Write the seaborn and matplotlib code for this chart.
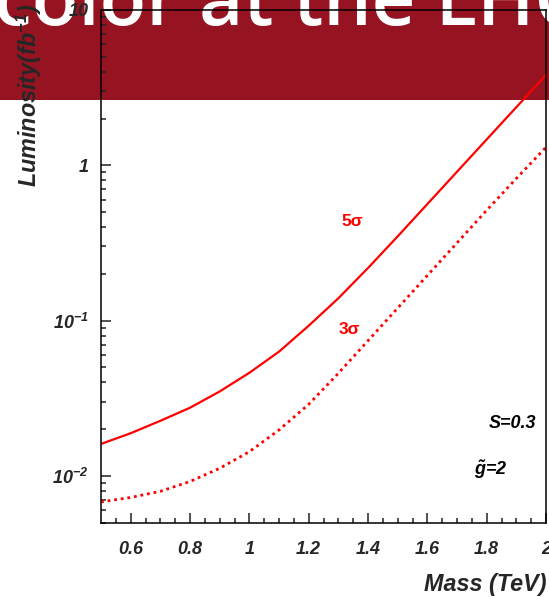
import numpy as np
import pandas as pd
import matplotlib
matplotlib.use("Agg")
import matplotlib.pyplot as plt
import seaborn as sns
from matplotlib.patches import Rectangle
from matplotlib.ticker import FixedLocator, LogLocator, NullFormatter

# --- data ---
mass = [0.5, 0.6, 0.7, 0.8, 0.9, 1.0, 1.1, 1.2, 1.3, 1.4, 1.5, 1.6, 1.7, 1.8, 1.9, 2.0]
lumi_5sigma = [0.01603, 0.01879, 0.02259, 0.02742, 0.03491, 0.04603, 0.0630, 0.0925,
               0.1390, 0.2178, 0.3483, 0.5623, 0.9078, 1.466, 2.366, 3.819]
lumi_3sigma = [0.006792, 0.007244, 0.007943, 0.009183, 0.01117, 0.01429, 0.01972, 0.02884,
               0.04571, 0.07413, 0.1202, 0.1950, 0.3162, 0.5129, 0.8222, 1.306]

x_ticks = [0.6, 0.8, 1.0, 1.2, 1.4, 1.6, 1.8, 2.0]
x_ticklabels = ["0.6", "0.8", "1", "1.2", "1.4", "1.6", "1.8", "2"]
y_ticks = [0.01, 0.1, 1, 10]
y_ticklabels = [r"$10^{-2}$", r"$10^{-1}$", "1", "10"]

df = pd.DataFrame({"mass": mass, "l5": lumi_5sigma, "l3": lumi_3sigma})

sns.set_theme(style="ticks")
plt.rcParams["font.family"] = ["Liberation Sans", "DejaVu Sans"]
plt.rcParams["mathtext.fontset"] = "custom"
plt.rcParams["mathtext.rm"] = "Liberation Sans:bold:italic"
plt.rcParams["mathtext.it"] = "Liberation Sans:bold:italic"
plt.rcParams["mathtext.bf"] = "Liberation Sans:bold:italic"

fig = plt.figure(figsize=(5.49, 5.97), dpi=100)
fig.patch.set_facecolor("white")

# slide banner behind the plot
fig.add_artist(Rectangle((0, 1 - 100 / 597), 1, 100 / 597, transform=fig.transFigure,
                         facecolor="#961422", edgecolor="none", zorder=-3))
fig.text(-6 / 549, 1 - 25 / 597, "color at the LHC", color="white",
         fontsize=55, fontweight="semibold", family="Open Sans",
         ha="left", va="baseline", zorder=-2)

ax = fig.add_axes([101 / 549, 1 - 522.5 / 597, 445 / 549, 512.5 / 597])
ax.set_facecolor("none")

sns.lineplot(data=df, x="mass", y="l5", ax=ax, color="red", linewidth=1.6)
sns.lineplot(data=df, x="mass", y="l3", ax=ax, color="red", linewidth=2.0,
             linestyle=(0, (1.0, 1.4)))

ax.set_yscale("log")
ax.set_xlim(0.5, 2.0)
ax.set_ylim(0.005, 10)

ax.set_xticks(x_ticks)
ax.set_xticklabels(x_ticklabels)
ax.xaxis.set_minor_locator(FixedLocator(np.arange(0.55, 2.0, 0.05)))
ax.set_yticks(y_ticks)
ax.set_yticklabels(y_ticklabels)
ax.yaxis.set_minor_locator(LogLocator(base=10, subs=np.arange(2, 10)))
ax.yaxis.set_minor_formatter(NullFormatter())

for lab in ax.get_xticklabels() + ax.get_yticklabels():
    lab.set_fontsize(13)
    lab.set_fontweight("bold")
    lab.set_fontstyle("italic")

ax.tick_params(axis="both", which="major", direction="in", length=7.2, width=1.1, color="#222222")
ax.tick_params(axis="both", which="minor", direction="in", length=3.6, width=1.1, color="#222222")
ax.tick_params(axis="x", which="major", pad=13)
ax.tick_params(axis="y", which="major", pad=9)
ax.tick_params(top=False, right=False, which="both")

for side in ["left", "right", "top", "bottom"]:
    ax.spines[side].set_visible(True)
    ax.spines[side].set_linewidth(1.1)
    ax.spines[side].set_color("black")

ax.set_xlabel("Mass (TeV)", fontsize=16.8, fontweight="bold", fontstyle="italic", ha="right", va="top")
ax.xaxis.set_label_coords(1.0, -0.098)
ax.set_ylabel(r"Luminosity(fb$^{-1}$)", fontsize=16.8, fontweight="bold", fontstyle="italic",
              ha="right", va="center")
ax.yaxis.set_label_coords(-0.162, 1.012)

txt = dict(color="red", fontsize=12.5, fontweight="bold", ha="center", va="center")
ax.text(1.347, 0.432, "5σ", **txt)
ax.text(1.337, 0.087, "3σ", **txt)

ann = dict(color="black", fontsize=13, fontweight="bold", fontstyle="italic", ha="center", va="center")
ax.text(1.888, 0.0216, "S=0.3", **ann)
ax.text(1.813, 0.0109, r"$\tilde{g}$=2", **ann)

fig.savefig("out.png", dpi=100)
